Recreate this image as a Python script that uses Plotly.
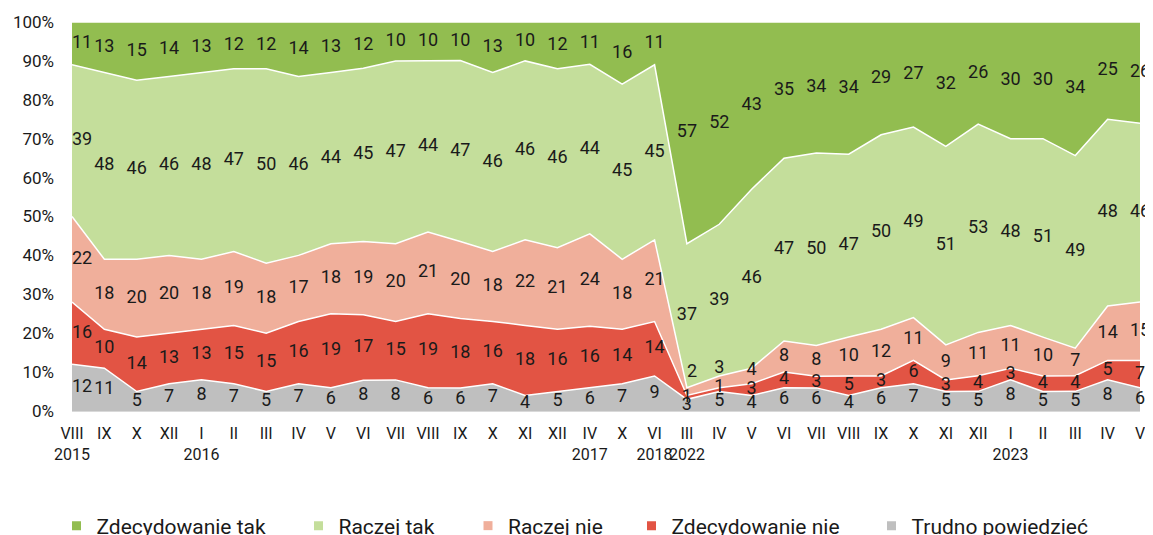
import plotly.graph_objects as go

# ---------------- data ----------------
tick_labels = ["VIII<br>2015", "IX", "X", "XII", "I<br>2016", "II", "III", "IV", "V", "VI",
               "VII", "VIII", "IX", "X", "XI", "XII", "IV<br>2017", "X", "VI<br>2018",
               "III<br>2022", "IV", "V", "VI", "VII", "VIII", "IX", "X", "XI", "XII",
               "I<br>2023", "II", "III", "IV", "V"]

zdecydowanie_tak = [11, 13, 15, 14, 13, 12, 12, 14, 13, 12, 10, 10, 10, 13, 10, 12, 11, 16, 11,
                    57, 52, 43, 35, 34, 34, 29, 27, 32, 26, 30, 30, 34, 25, 26]
raczej_tak = [39, 48, 46, 46, 48, 47, 50, 46, 44, 45, 47, 44, 47, 46, 46, 46, 44, 45, 45,
              37, 39, 46, 47, 50, 47, 50, 49, 51, 53, 48, 51, 49, 48, 46]
raczej_nie = [22, 18, 20, 20, 18, 19, 18, 17, 18, 19, 20, 21, 20, 18, 22, 21, 24, 18, 21,
              2, 3, 4, 8, 8, 10, 12, 11, 9, 11, 11, 10, 7, 14, 15]
zdecydowanie_nie = [16, 10, 14, 13, 13, 15, 15, 16, 19, 17, 15, 19, 18, 16, 18, 16, 16, 14, 14,
                    1, 1, 3, 4, 3, 5, 3, 6, 3, 4, 3, 4, 4, 5, 7]
trudno = [12, 11, 5, 7, 8, 7, 5, 7, 6, 8, 8, 6, 6, 7, 4, 5, 6, 7, 9,
          3, 5, 4, 6, 6, 4, 6, 7, 5, 5, 8, 5, 5, 8, 6]

series_names = ["Trudno powiedzieć", "Zdecydowanie nie", "Raczej nie", "Raczej tak", "Zdecydowanie tak"]
series_values = [trudno, zdecydowanie_nie, raczej_nie, raczej_tak, zdecydowanie_tak]
series_colors = ["#BFBFBF", "#E25444", "#F0AF9B", "#C4DE9B", "#92BD50"]

# label nudges (in % units) for crowded thin bands, as in the original
label_nudge = {("Raczej nie", 19): 5.0, ("Raczej nie", 20): 3.5, ("Raczej nie", 21): 1.5,
               ("Zdecydowanie nie", 20): 0.6}
label_pos_override = {("Raczej nie", 19): "middle right"}

# ---------------- figure ----------------
W, H = 1145, 527  # page body has an 8px margin
x = list(range(len(tick_labels)))
fig = go.Figure()

for name, vals, col in zip(series_names, series_values, series_colors):
    fig.add_trace(go.Scatter(
        x=x, y=vals, name=name, mode="lines", stackgroup="one", groupnorm="percent",
        line=dict(color="white", width=1.5), fillcolor=col, showlegend=False,
        hoverinfo="skip",
    ))

# data labels at band midpoints (normalized)
totals = [sum(s[i] for s in series_values) for i in x]
cum = [0.0] * len(x)
for name, vals in zip(series_names, series_values):
    mids = []
    positions = []
    for i in x:
        v = vals[i] * 100.0 / totals[i]
        mids.append(cum[i] + v / 2 + label_nudge.get((name, i), 0.0))
        cum[i] += v
        default_pos = "middle right" if i == 0 else "middle center"
        positions.append(label_pos_override.get((name, i), default_pos))
    fig.add_trace(go.Scatter(
        x=x, y=mids, mode="text", text=[str(v) for v in vals],
        textposition=positions,
        textfont=dict(family="Roboto", size=18, color="#1a1a1a"),
        cliponaxis=False, showlegend=False, hoverinfo="skip",
    ))

# legend entries (small squares), each in its own legend for exact placement
legend_order = ["Zdecydowanie tak", "Raczej tak", "Raczej nie", "Zdecydowanie nie", "Trudno powiedzieć"]
legend_x_px = [48.5, 290.5, 460, 623.5, 863.5]
color_map = dict(zip(series_names, series_colors))
layout_legends = {}
for k, (nm, px) in enumerate(zip(legend_order, legend_x_px)):
    key = "legend" if k == 0 else f"legend{k + 1}"
    fig.add_trace(go.Scatter(
        x=[None], y=[None], mode="markers", name=nm,
        marker=dict(symbol="square", size=9, color=color_map[nm]),
        showlegend=True, legend=key,
    ))
    layout_legends[key] = dict(
        x=px / W, y=1 - 518 / H, xref="container", yref="container",
        xanchor="left", yanchor="middle", orientation="h",
        font=dict(family="Roboto", size=21, color="#1a1a1a"),
        bgcolor="rgba(0,0,0,0)", borderwidth=0,
    )

fig.update_layout(
    width=W, height=H,
    margin=dict(l=64, r=13, t=14, b=124, autoexpand=False),
    paper_bgcolor="white", plot_bgcolor="white",
    font=dict(family="Roboto", color="#1a1a1a"),
    xaxis=dict(
        range=[0, len(x) - 1], tickmode="array", tickvals=x, ticktext=tick_labels,
        showgrid=False, zeroline=False, showline=True, linecolor="#d9d9d9", linewidth=1,
        ticks="", tickangle=0, automargin=False,
        tickfont=dict(family="Roboto", size=16, color="#1a1a1a"),
        ticklabelstandoff=8, fixedrange=True,
    ),
    yaxis=dict(
        range=[0, 100], dtick=10, ticksuffix="%", showgrid=False, zeroline=False,
        showline=False, ticks="", automargin=False,
        tickfont=dict(family="Roboto", size=17, color="#1a1a1a"),
        ticklabelstandoff=17, fixedrange=True,
    ),
    **layout_legends,
)

fig.write_html("out.html")
